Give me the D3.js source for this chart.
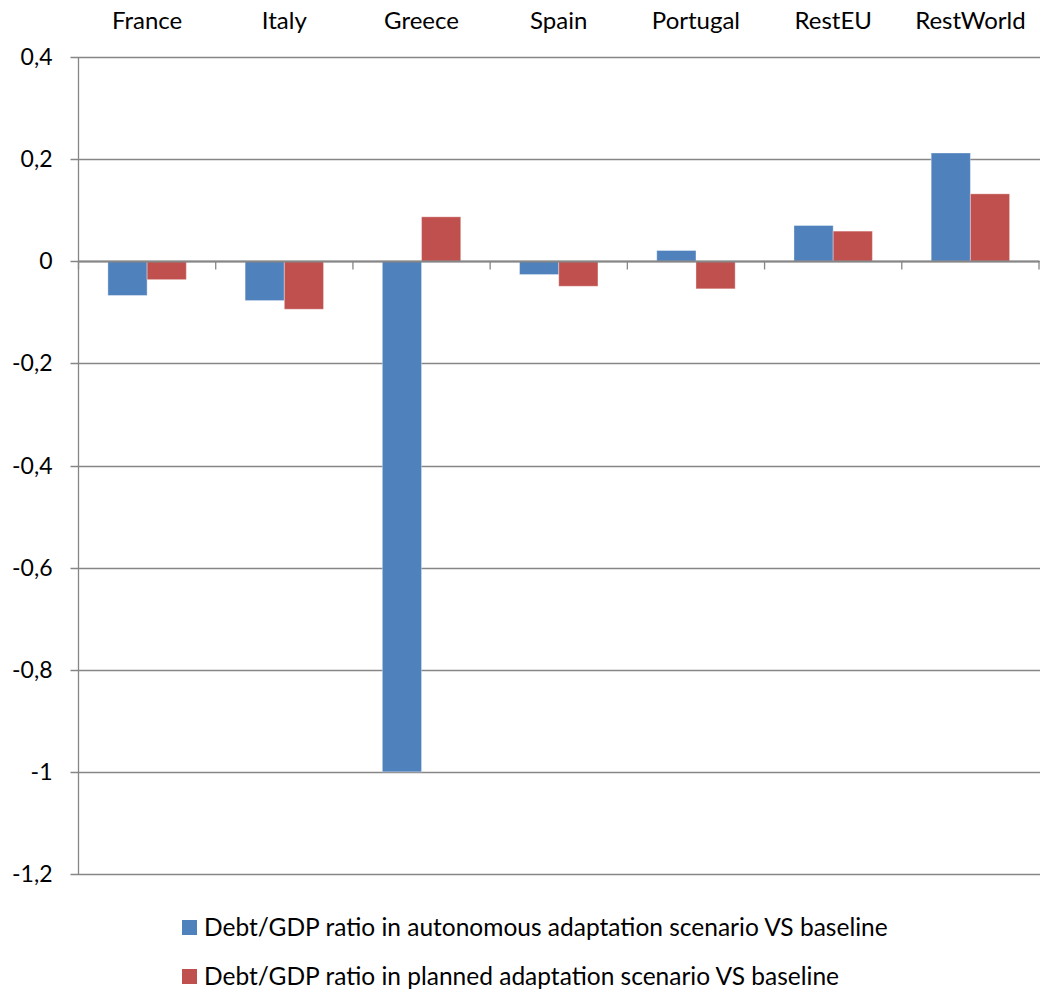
<!DOCTYPE html>
<html>
<head>
<meta charset="utf-8">
<script src="https://cdn.jsdelivr.net/npm/d3@7"></script>
<style>
  html, body { margin: 0; padding: 0; background: #fff; }
  svg text { font-family: Lato, "Open Sans", sans-serif; fill: #000; }
</style>
</head>
<body>
<svg id="chart" width="1041" height="989"></svg>
<script>
// Debt/GDP ratio deviation from baseline, by region
const regions = ["France", "Italy", "Greece", "Spain", "Portugal", "RestEU", "RestWorld"];
const autonomous = [-0.067, -0.077, -1.0, -0.026, 0.021, 0.070, 0.212];
const planned = [-0.036, -0.094, 0.087, -0.049, -0.054, 0.059, 0.132];
const seriesNames = [
  "Debt/GDP ratio in autonomous adaptation scenario VS baseline",
  "Debt/GDP ratio in planned adaptation scenario VS baseline"
];
const seriesColors = ["#4F81BD", "#C0504D"];
const yTicks = [0.4, 0.2, 0, -0.2, -0.4, -0.6, -0.8, -1, -1.2];

const svg = d3.select("#chart");
const margin = { left: 78.5, right: 1039, top: 57, bottom: 874 };

const x = d3.scaleBand().domain(regions).range([margin.left, margin.right]).paddingInner(0).paddingOuter(0);
// gap width of 150%: each cluster = 2 bars + 1.5 bar widths of gap
const barW = x.bandwidth() / 3.5;
const gap = barW * 0.75;
const y = d3.scaleLinear().domain([-1.2, 0.4]).range([margin.bottom, margin.top]);

const gridColor = "#868686";
// decimal comma, plain hyphen for negatives
const fmt = v => String(+v.toFixed(1)).replace(".", ",");

// horizontal gridlines with left tick stubs
svg.append("g").selectAll("line")
  .data(yTicks)
  .join("line")
  .attr("x1", margin.left - 8)
  .attr("x2", margin.right + 1)
  .attr("y1", d => Math.round(y(d)) + 0.5)
  .attr("y2", d => Math.round(y(d)) + 0.5)
  .attr("stroke", gridColor)
  .attr("stroke-width", 1.3);

// y tick labels
svg.append("g").selectAll("text")
  .data(yTicks)
  .join("text")
  .attr("x", margin.left - 26)
  .attr("y", d => y(d))
  .attr("dy", "0.35em")
  .attr("text-anchor", "end")
  .style("font-size", "23px")
  .text(fmt);

// vertical axis
svg.append("line")
  .attr("x1", margin.left).attr("x2", margin.left)
  .attr("y1", margin.top).attr("y2", margin.bottom)
  .attr("stroke", gridColor).attr("stroke-width", 1.3);

// bars
const series = [autonomous, planned];
const barsG = svg.append("g");
series.forEach((vals, si) => {
  barsG.append("g").selectAll("rect")
    .data(regions.map((r, i) => ({ r, v: vals[i] })))
    .join("rect")
    .attr("x", d => x(d.r) + gap + si * barW)
    .attr("width", barW)
    .attr("y", d => y(Math.max(0, d.v)))
    .attr("height", d => Math.abs(y(d.v) - y(0)))
    .attr("fill", seriesColors[si])
    .attr("stroke", "rgba(255,255,255,0.35)")
    .attr("stroke-width", 1);
});

// zero axis with category ticks
const y0 = Math.round(y(0)) + 0.5;
svg.append("line")
  .attr("x1", margin.left).attr("x2", margin.right)
  .attr("y1", y0).attr("y2", y0)
  .attr("stroke", gridColor).attr("stroke-width", 2);
svg.append("g").selectAll("line")
  .data(regions.map(r => x(r)).concat([margin.right]))
  .join("line")
  .attr("x1", d => d).attr("x2", d => d)
  .attr("y1", y0).attr("y2", y0 + 8)
  .attr("stroke", gridColor).attr("stroke-width", 1.3);

// category labels along the top
svg.append("g").selectAll("text")
  .data(regions)
  .join("text")
  .attr("x", d => x(d) + x.bandwidth() / 2)
  .attr("y", 29)
  .attr("text-anchor", "middle")
  .style("font-size", "24px")
  .text(d => d);

// legend
const legend = svg.append("g");
seriesNames.forEach((name, i) => {
  const ly = 927.5 + i * 49;
  legend.append("rect")
    .attr("x", 182).attr("y", ly - 7.5)
    .attr("width", 15).attr("height", 15)
    .attr("fill", seriesColors[i]);
  legend.append("text")
    .attr("x", 204).attr("y", ly)
    .attr("dy", "0.35em")
    .style("font-size", "24.5px")
    .text(name);
});
</script>
</body>
</html>
